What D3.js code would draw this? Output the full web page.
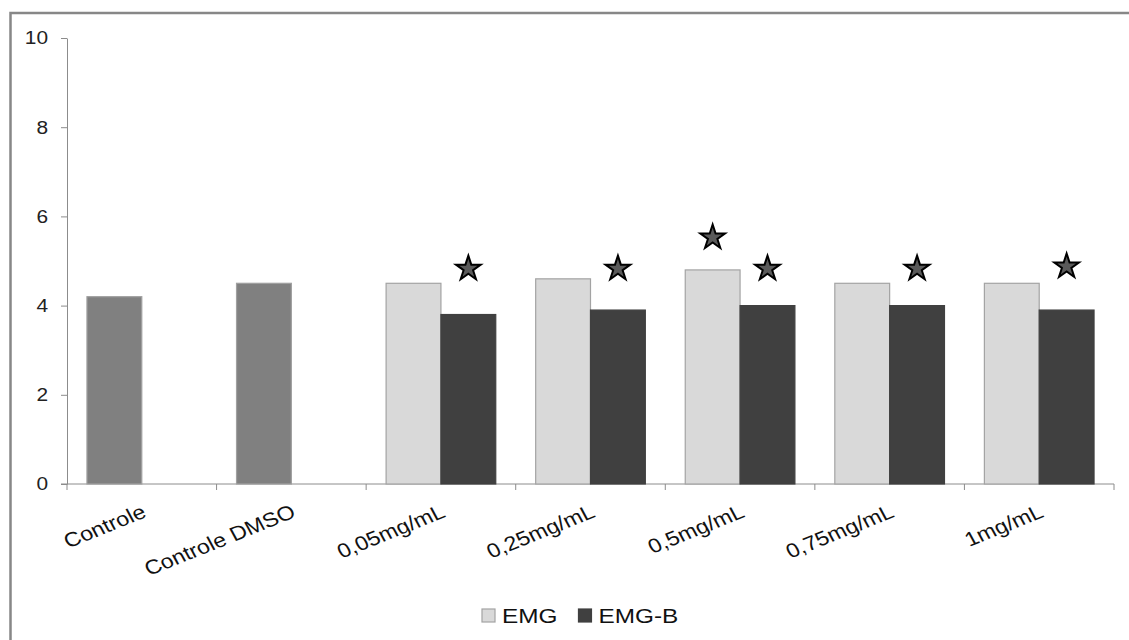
<!DOCTYPE html>
<html>
<head>
<meta charset="utf-8">
<script src="https://cdn.jsdelivr.net/npm/d3@7"></script>
<style>
  html, body { margin: 0; padding: 0; background: #fff; }
  svg { display: block; font-family: "Liberation Sans", Arial, sans-serif; }
</style>
</head>
<body>
<svg id="chart" width="1129" height="640"></svg>
<script>
// Treatment groups along the x axis
const categories = ["Controle", "Controle DMSO", "0,05mg/mL", "0,25mg/mL", "0,5mg/mL", "0,75mg/mL", "1mg/mL"];
// Series shown in the legend
const seriesNames = ["EMG", "EMG-B"];
// Mean values per group (controls share the first slot)
const emgValues  = [4.2, 4.5, 4.5, 4.6, 4.8, 4.5, 4.5];
const emgBValues = [null, null, 3.8, 3.9, 4.0, 4.0, 3.9];
// Groups that are controls (drawn in a mid grey)
const controlGroups = ["Controle", "Controle DMSO"];
// Significance marks: group, series and height of the star (axis units)
const starGroups = ["0,05mg/mL", "0,25mg/mL", "0,5mg/mL", "0,5mg/mL", "0,75mg/mL", "1mg/mL"];
const starSeries = ["EMG-B", "EMG-B", "EMG", "EMG-B", "EMG-B", "EMG-B"];
const starHeights = [4.85, 4.85, 5.55, 4.85, 4.85, 4.9];
// Y axis ticks
const yTicks = [0, 2, 4, 6, 8, 10];

const colors = { "EMG": "#d9d9d9", "EMG-B": "#404040", control: "#808080" };
const strokes = { "EMG": "#a3a3a3", "EMG-B": "#404040", control: "#a0a0a0" };
// Text in this chart is set slightly wide
const widen = 1.16;

const svg = d3.select("#chart");
svg.append("rect").attr("width", 1129).attr("height", 640).attr("fill", "#fff");

// Frame of the chart area (top and left edges are visible)
svg.append("path")
  .attr("d", "M10.5,640 V13 H1129")
  .attr("fill", "none").attr("stroke", "#878787").attr("stroke-width", 2.5);

const x = d3.scaleBand().domain(categories).range([67, 1114]).paddingInner(0).paddingOuter(0);
const xs = d3.scaleBand().domain(seriesNames).range([0, x.bandwidth()]).paddingInner(0).paddingOuter(0.364);
const y = d3.scaleLinear().domain([0, 10]).range([484, 38]);

// Y axis line and ticks
const yAxis = svg.append("g")
  .attr("transform", "translate(67,0)")
  .call(d3.axisLeft(y).tickValues(yTicks).tickSize(6).tickSizeOuter(0).tickFormat(""));
yAxis.select(".domain").attr("stroke", "#8c8c8c");
yAxis.selectAll(".tick line").attr("stroke", "#8c8c8c");

// Y tick labels
svg.append("g").selectAll("text").data(yTicks).join("text")
  .attr("transform", d => `translate(48,${y(d)}) scale(${widen},1)`)
  .attr("text-anchor", "end")
  .attr("dy", "0.35em")
  .attr("font-size", 18)
  .attr("fill", "#222")
  .text(d => d);

// X axis baseline with category boundary ticks
const xAxisG = svg.append("g");
xAxisG.append("line")
  .attr("x1", 61).attr("x2", x.range()[1]).attr("y1", y(0)).attr("y2", y(0))
  .attr("stroke", "#8c8c8c");
const boundaries = categories.map(c => x(c)).concat([x.range()[1]]);
xAxisG.selectAll("line.bt").data(boundaries).join("line")
  .attr("class", "bt")
  .attr("x1", d => d).attr("x2", d => d)
  .attr("y1", y(0)).attr("y2", y(0) + 6)
  .attr("stroke", "#8c8c8c");

// Bars
const barData = [];
categories.forEach((c, i) => {
  const isCtrl = controlGroups.includes(c);
  if (emgValues[i] != null) barData.push({ cat: c, series: "EMG", value: emgValues[i], ctrl: isCtrl });
  if (emgBValues[i] != null) barData.push({ cat: c, series: "EMG-B", value: emgBValues[i], ctrl: false });
});

svg.append("g").selectAll("rect").data(barData).join("rect")
  .attr("x", d => x(d.cat) + xs(d.series))
  .attr("y", d => y(d.value))
  .attr("width", xs.bandwidth())
  .attr("height", d => y(0) - y(d.value))
  .attr("fill", d => d.ctrl ? colors.control : colors[d.series])
  .attr("stroke", d => d.ctrl ? strokes.control : strokes[d.series])
  .attr("stroke-width", 1.2);

// Stars marking significant differences
const starPath = d3.symbol(d3.symbolStar).size(190)();
svg.append("g").selectAll("path").data(starGroups.map((g, i) => ({ g, s: starSeries[i], h: starHeights[i] })))
  .join("path")
  .attr("d", starPath)
  .attr("transform", d => `translate(${x(d.g) + xs(d.s) + xs.bandwidth() / 2},${y(d.h) + 1})`)
  .attr("fill", "#5a5a5a").attr("stroke", "#000").attr("stroke-width", 2)
  .attr("stroke-linejoin", "miter");

// Category labels, slanted
svg.append("g").selectAll("text").data(categories).join("text")
  .attr("transform", d => `translate(${x(d) + x.bandwidth() / 2 - 2},${y(0) + 18}) scale(${widen},1) rotate(-25)`)
  .attr("text-anchor", "end")
  .attr("dy", "0.8em")
  .attr("font-size", 20)
  .attr("fill", "#111")
  .text(d => d);

// Legend
const legend = svg.append("g").attr("transform", "translate(482,609)");
let lx = 0;
seriesNames.forEach(name => {
  const g = legend.append("g").attr("transform", `translate(${lx},0)`);
  g.append("rect").attr("width", 13).attr("height", 13)
    .attr("fill", colors[name]).attr("stroke", strokes[name]).attr("stroke-width", 1.2);
  const t = g.append("text")
    .attr("transform", `translate(20,14) scale(${widen},1)`)
    .attr("font-size", 21).attr("fill", "#111").text(name);
  lx += 20 + t.node().getComputedTextLength() * widen + 21;
});
</script>
</body>
</html>
